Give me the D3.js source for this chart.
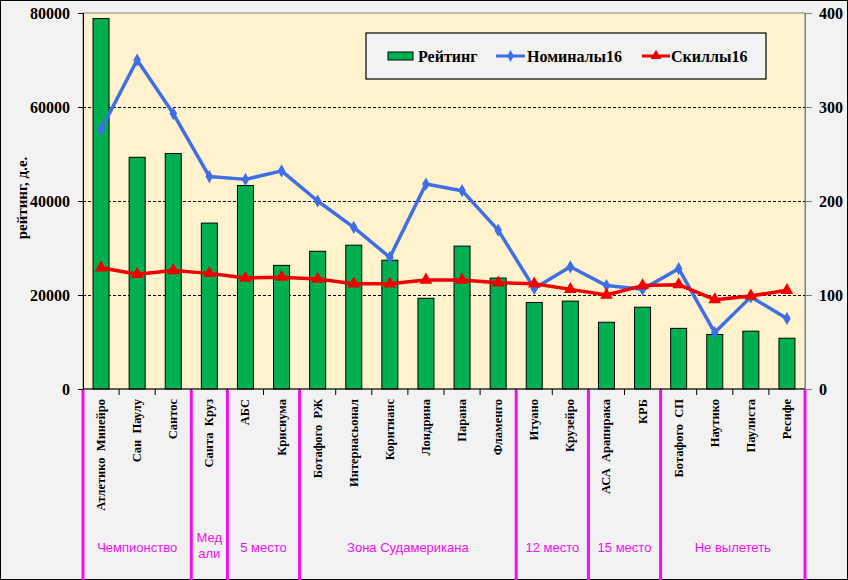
<!DOCTYPE html>
<html lang="ru">
<head>
    <meta charset="UTF-8">
    <title>Рейтинг клубов</title>
    <script src="https://d3js.org/d3.v7.min.js"></script>
    <style>
        body { margin: 0; background: #fff; }
    </style>
</head>
<body>
<div id="chart_div"></div>
<script>
    // data
    var teams = ["Атлетико  Минейро", "Сан  Паулу", "Сантос", "Санта  Круз", "АБС", "Крисиума",
        "Ботафого  РЖ", "Интернасьонал", "Коритианс", "Лондрина", "Парана", "Фламенго",
        "Итуано", "Крузейро", "АСА  Арапирака", "КРБ", "Ботафого  СП", "Наутико", "Паулиста", "Ресифе"];
    var rating = [78800, 49300, 50100, 35300, 43300, 26300, 29300, 30600, 27400, 19300,
        30400, 23600, 18400, 18700, 14200, 17400, 12900, 11600, 12300, 10800];
    var nominal16 = [276, 350, 293, 226, 223, 232, 200, 172, 140, 218,
        211, 169, 107, 130, 110, 106, 128, 60, 98, 75];
    var skills16 = [129, 122, 126, 123, 118, 119, 117, 112, 112, 116,
        116, 113, 112, 106, 100, 110, 111, 95, 99, 105];
    var groupNames = [["Чемпионство"], ["Мед", "али"], ["5 место"], ["Зона Судамерикана"],
        ["12 место"], ["15 место"], ["Не вылететь"]];
    var groupSizes = [3, 1, 2, 6, 2, 2, 4];
    var leftTicks = [0, 20000, 40000, 60000, 80000];
    var rightTicks = [0, 100, 200, 300, 400];

    var SERIF = "'Liberation Serif', 'Times New Roman', Times, serif";
    var SANS = "'Liberation Sans', Arial, Helvetica, sans-serif";

    var W = 848, H = 580;
    var margin = {top: 13, right: 43, bottom: 191, left: 83};
    var width = W - margin.left - margin.right,
        height = H - margin.top - margin.bottom;

    var x = d3.scaleBand().domain(teams).range([0, width]).paddingInner(0).paddingOuter(0);
    var y = d3.scaleLinear().domain([0, 80000]).range([height, 0]);
    var y2 = d3.scaleLinear().domain([0, 400]).range([height, 0]);

    var svg = d3.select("#chart_div").append("svg")
        .attr("width", W)
        .attr("height", H);

    // outer background + border
    svg.append("rect")
        .attr("x", 0.5).attr("y", 0.5)
        .attr("width", W - 1).attr("height", H - 1)
        .attr("fill", "#F2F2F2")
        .attr("stroke", "#000");

    var g = svg.append("g")
        .attr("transform", "translate(" + margin.left + "," + margin.top + ")");

    // plot area
    g.append("rect")
        .attr("width", width).attr("height", height)
        .attr("fill", "#FFF2CC")
        .attr("stroke", "#808080");

    // dashed grid
    g.selectAll(".grid").data([20000, 40000, 60000]).enter().append("line")
        .attr("x1", 0).attr("x2", width)
        .attr("y1", function(d) { return Math.round(y(d)) + 0.5; })
        .attr("y2", function(d) { return Math.round(y(d)) + 0.5; })
        .attr("stroke", "#000")
        .attr("stroke-dasharray", "3,2");

    // bars
    var barW = 16;
    g.selectAll(".bar").data(rating).enter().append("rect")
        .attr("x", function(d, i) { return x(teams[i]) + x.bandwidth() / 2 - barW / 2; })
        .attr("y", function(d) { return y(d); })
        .attr("width", barW)
        .attr("height", function(d) { return height - y(d); })
        .attr("fill", "#00B050")
        .attr("stroke", "#000")
        .attr("stroke-width", 1);

    var cx = function(d, i) { return x(teams[i]) + x.bandwidth() / 2; };

    // Номиналы16 line
    var nomLine = d3.line()
        .x(cx)
        .y(function(d) { return y2(d); });
    g.append("path")
        .datum(nominal16)
        .attr("d", nomLine)
        .attr("fill", "none")
        .attr("stroke", "#3F6FE6")
        .attr("stroke-width", 3.5)
        .attr("stroke-linejoin", "round");
    g.selectAll(".nom_pt").data(nominal16).enter().append("path")
        .attr("transform", function(d, i) { return "translate(" + cx(d, i) + "," + y2(d) + ")"; })
        .attr("d", d3.symbol().type(d3.symbolDiamond).size(50))
        .attr("fill", "#3F6FE6");

    // Скиллы16 line
    var skLine = d3.line()
        .x(cx)
        .y(function(d) { return y2(d); });
    g.append("path")
        .datum(skills16)
        .attr("d", skLine)
        .attr("fill", "none")
        .attr("stroke", "#F00000")
        .attr("stroke-width", 3.5)
        .attr("stroke-linejoin", "round");
    g.selectAll(".sk_pt").data(skills16).enter().append("path")
        .attr("transform", function(d, i) { return "translate(" + cx(d, i) + "," + y2(d) + ")"; })
        .attr("d", d3.symbol().type(d3.symbolTriangle).size(70))
        .attr("fill", "#F00000");

    function styleTicks(sel) {
        sel.selectAll("text")
            .style("font-family", SERIF)
            .style("font-weight", "bold")
            .style("font-size", "16px")
            .attr("fill", "#000");
    }

    // left axis
    var axL = g.append("g").call(d3.axisLeft(y).tickValues(leftTicks).tickSize(5).tickPadding(8).tickFormat(d3.format("d")));
    axL.select(".domain").attr("stroke", "#000");
    styleTicks(axL);

    // right axis
    var axR = g.append("g").attr("transform", "translate(" + width + ",0)")
        .call(d3.axisRight(y2).tickValues(rightTicks).tickSize(7).tickPadding(7));
    axR.select(".domain").attr("stroke", "#808080");
    axR.selectAll("line").attr("stroke", "#808080");
    styleTicks(axR);

    // x axis line + ticks between categories
    g.append("line")
        .attr("x1", 0).attr("x2", width)
        .attr("y1", height).attr("y2", height)
        .attr("stroke", "#000");
    g.selectAll(".xtick").data(teams.slice(1)).enter().append("line")
        .attr("x1", function(d) { return x(d); })
        .attr("x2", function(d) { return x(d); })
        .attr("y1", height).attr("y2", height + 6)
        .attr("stroke", "#000");

    // category labels
    g.selectAll(".cat").data(teams).enter().append("text")
        .attr("transform", function(d) {
            return "translate(" + (x(d) + x.bandwidth() / 2 + 4) + "," + (height + 10) + ") rotate(-90)";
        })
        .attr("text-anchor", "end")
        .style("font-family", SERIF)
        .style("font-weight", "bold")
        .style("font-size", "12.5px")
        .style("white-space", "pre")
        .text(function(d) { return d; });

    // group separators and labels
    var start = 0;
    var bounds = [0];
    groupSizes.forEach(function(n) { start += n; bounds.push(start); });
    var xEdge = function(k) { return k < teams.length ? x(teams[k]) : width; };

    g.selectAll(".sep").data(bounds).enter().append("line")
        .attr("x1", function(d) { return xEdge(d); })
        .attr("x2", function(d) { return xEdge(d); })
        .attr("y1", height + 1).attr("y2", H - margin.top)
        .attr("stroke", "#EE11EE")
        .attr("stroke-width", 3);

    groupNames.forEach(function(lines, k) {
        var mid = (xEdge(bounds[k]) + xEdge(bounds[k + 1])) / 2;
        var t = g.append("text")
            .attr("text-anchor", "middle")
            .attr("x", mid)
            .attr("y", lines.length > 1 ? 529 : 539)
            .attr("fill", "#EE11EE")
            .style("font-family", SANS)
            .style("font-size", "13px");
        lines.forEach(function(s, j) {
            t.append("tspan").attr("x", mid).attr("dy", j === 0 ? 0 : 16).text(s);
        });
    });

    // y axis title
    svg.append("text")
        .attr("transform", "translate(27,198) rotate(-90)")
        .attr("text-anchor", "middle")
        .style("font-family", SERIF)
        .style("font-weight", "bold")
        .style("font-size", "15px")
        .text("рейтинг, д.е.");

    // legend
    var leg = svg.append("g").attr("transform", "translate(366,33)");
    leg.append("rect")
        .attr("width", 400).attr("height", 46)
        .attr("fill", "#F2F2F2")
        .attr("stroke", "#000")
        .attr("stroke-width", 1.2);
    leg.append("rect")
        .attr("x", 22).attr("y", 19).attr("width", 25).attr("height", 8)
        .attr("fill", "#00B050").attr("stroke", "#000");

    leg.append("line").attr("x1", 130).attr("x2", 159).attr("y1", 23).attr("y2", 23)
        .attr("stroke", "#3F6FE6").attr("stroke-width", 3);
    leg.append("path").attr("transform", "translate(144.5,23)")
        .attr("d", d3.symbol().type(d3.symbolDiamond).size(40)).attr("fill", "#3F6FE6");

    leg.append("line").attr("x1", 276).attr("x2", 304).attr("y1", 23).attr("y2", 23)
        .attr("stroke", "#F00000").attr("stroke-width", 3);
    leg.append("path").attr("transform", "translate(290,23)")
        .attr("d", d3.symbol().type(d3.symbolTriangle).size(50)).attr("fill", "#F00000");

    var legItems = [["Рейтинг", 52], ["Номиналы16", 161], ["Скиллы16", 305]];
    legItems.forEach(function(it) {
        leg.append("text")
            .attr("x", it[1]).attr("y", 29)
            .style("font-family", SERIF)
            .style("font-weight", "bold")
            .style("font-size", "16px")
            .text(it[0]);
    });
</script>
</body>
</html>
